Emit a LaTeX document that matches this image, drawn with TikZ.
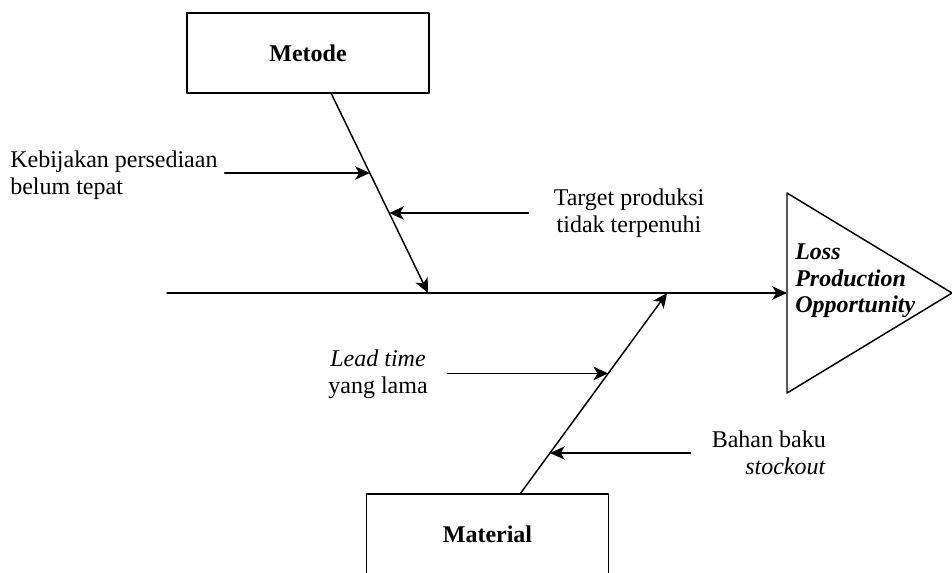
\documentclass[tikz,border=0pt]{standalone}
\usepackage{fontspec}
\setmainfont{Liberation Serif}
\usetikzlibrary{arrows.meta, calc}

\begin{document}
\begin{tikzpicture}[
  x=0.75pt, y=-0.75pt,
  line cap=round, line join=round,
  txt/.style={inner sep=0pt, font=\fontsize{18}{20}\selectfont},
  causebox/.style={draw, line width=1.1pt, minimum width=181.5pt, minimum height=60pt,
    font=\fontsize{18}{20}\selectfont\bfseries},
  bone/.style={line width=1.1pt},
  cause/.style={line width=1.1pt, -{Stealth[length=11pt, width=10pt, inset=3pt]}}
]
  \useasboundingbox (0,0) rectangle (952,572);

  % category boxes
  \node[causebox] (metode)   at (308,53)    {Metode};
  \node[causebox] (material) at (487.5,534) {Material};

  % head of the fish
  \coordinate (headTop) at (787,193);
  \coordinate (headBot) at (787,393);
  \coordinate (headTip) at (952,293);
  \draw[bone] (headTop) -- (headTip) -- (headBot) -- cycle;
  \node[txt, anchor=west, align=left, font=\fontsize{18}{20}\selectfont\bfseries\itshape]
    (effect) at (795,281) {Loss\\Production\\Opportunity};

  % spine
  \coordinate (tail) at (167,293);
  \coordinate (head) at (787,293);
  \draw[cause] (tail) -- (head);

  % main bones
  \coordinate (m0) at (331,93);
  \coordinate (m1) at (428,293);
  \draw[cause] (m0) -- (m1);
  \coordinate (b0) at (520,494);
  \coordinate (b1) at (667,293);
  \draw[cause] (b0) -- (b1);

  % where the sub-causes hit the bones
  \coordinate (kebijakanTip) at ($(m0)!0.4!(m1)$);
  \coordinate (targetTip)    at ($(m0)!0.6!(m1)$);
  \coordinate (leadTip)      at ($(b0)!0.6!(b1)$);
  \coordinate (bahanTip)     at ($(b0)!0.204!(b1)$);

  % sub-causes
  \node[txt, anchor=west, align=left] (kebijakan) at (10,175)
    {Kebijakan persediaan\\belum tepat};
  \node[txt, align=center] (target) at (629,213)
    {Target produksi\\tidak terpenuhi};
  \node[txt, align=center] (lead) at (378,374)
    {\textit{Lead time}\\yang lama};
  \node[txt, anchor=east, align=right] (bahan) at (826,453)
    {Bahan baku\\\textit{stockout}};

  \draw[cause] ($(kebijakanTip -| kebijakan.east)+(7,0)$) -- (kebijakanTip);
  \draw[cause] ($(targetTip -| target.west)+(-25,0)$) -- (targetTip);
  \draw[cause] ($(leadTip -| lead.east)+(20,0)$) -- (leadTip);
  \draw[cause] ($(bahanTip -| bahan.west)+(-21,0)$) -- (bahanTip);
\end{tikzpicture}
\end{document}
